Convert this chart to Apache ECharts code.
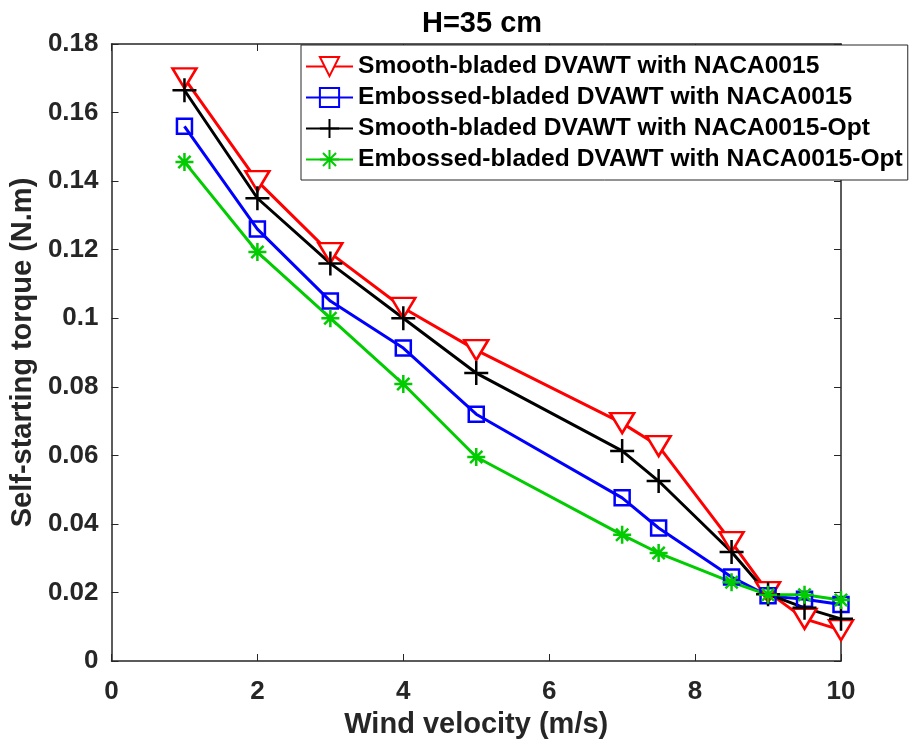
<!DOCTYPE html>
<html><head><meta charset="utf-8">
<script src="https://cdn.jsdelivr.net/npm/echarts@6/dist/echarts.min.js"></script>
<style>html,body{margin:0;padding:0;background:#fff}#c{width:918px;height:746px}</style>
</head><body><div id="c"></div>
<script>
const windVelocity = [1, 2, 3, 4, 5, 7, 7.5, 8.5, 9, 9.5, 10];
const smoothNACA = [0.170, 0.140, 0.119, 0.103, 0.0907, 0.0694, 0.0627, 0.0347, 0.0201, 0.0123, 0.0090];
const embossedNACA = [0.156, 0.126, 0.105, 0.0913, 0.0720, 0.0476, 0.0388, 0.0245, 0.0190, 0.0180, 0.0165];
const smoothOpt = [0.1665, 0.135, 0.116, 0.100, 0.084, 0.0613, 0.0525, 0.0318, 0.0195, 0.0155, 0.0123];
const embossedOpt = [0.1456, 0.1193, 0.100, 0.0808, 0.0595, 0.0368, 0.0315, 0.0230, 0.0193, 0.0193, 0.0178];
const seriesNames = ['Smooth-bladed DVAWT with NACA0015','Embossed-bladed DVAWT with NACA0015','Smooth-bladed DVAWT with NACA0015-Opt','Embossed-bladed DVAWT with NACA0015-Opt'];
const yTicks = ['0','0.02','0.04','0.06','0.08','0.1','0.12','0.14','0.16','0.18'];

const F = '"Liberation Sans", Arial, sans-serif';
const axisCol = '#262626';
const pair = a => windVelocity.map((x,i)=>[x,a[i]]);
const plusPath = 'path://M5,0L5,10M0,5L10,5';
const starPath = 'path://M5,0L5,10M0,5L10,5M1.6,1.6L8.4,8.4M1.6,8.4L8.4,1.6';

function mk(name, data, col, symbol, size, rot, fill) {
  return {
    name, type:'line', data: pair(data), symbol, symbolSize: size, symbolRotate: rot||0,
    showAllSymbol:true,
    lineStyle:{color:col, width:3},
    itemStyle:{color: fill, borderColor: col, borderWidth: 2.5},
    emphasis:{disabled:true}, z: 3
  };
}
const axCommon = {
  axisLine:{show:true, onZero:false, lineStyle:{color:axisCol, width:1.5}},
  axisTick:{show:true, inside:true, length:7, lineStyle:{color:axisCol}},
  splitLine:{show:false}
};
const chart = echarts.init(document.getElementById('c'), null, {renderer:'canvas'});
chart.setOption({
  animation:false,
  backgroundColor:'#fff',
  title:{text:'H=35 cm', left:477, top:4, textAlign:'center',
    textStyle:{fontFamily:F, fontWeight:'bold', fontSize:29, color:'#000'}},
  grid:{left:111, right:77, top:44, bottom:85, containLabel:false},
  legend:{
    data: seriesNames, orient:'vertical', left:301, top:45,
    padding:[9,5,8,4], itemGap:6, itemWidth:47, itemHeight:24, itemTextGap:6,
    backgroundColor:'#fff', borderColor:'#262626', borderWidth:1,
    textStyle:{fontFamily:F, fontWeight:'bold', fontSize:24.6, color:'#000'}
  },
  xAxis:[Object.assign({
    type:'value', min:0, max:10, interval:2,
    name:'Wind velocity (m/s)', nameLocation:'middle', nameGap:49,
    nameTextStyle:{fontFamily:F, fontWeight:'bold', fontSize:29, color:axisCol},
    axisLabel:{fontFamily:F, fontWeight:'bold', fontSize:26, color:axisCol, margin:18}
  }, axCommon),Object.assign({
    type:'value', min:0, max:10, interval:2, position:'top',
    axisLabel:{show:false}
  }, axCommon)],
  yAxis:[Object.assign({
    type:'value', min:0, max:0.18, interval:0.02,
    name:'Self-starting torque (N.m)', nameLocation:'middle', nameGap:67, nameRotate:90,
    nameTextStyle:{fontFamily:F, fontWeight:'bold', fontSize:29, color:axisCol},
    axisLabel:{fontFamily:F, fontWeight:'bold', fontSize:26, color:axisCol, margin:13,
      formatter:(v)=>yTicks[Math.round(v/0.02)]}
  }, axCommon),Object.assign({
    type:'value', min:0, max:0.18, interval:0.02, position:'right',
    axisLabel:{show:false}
  }, axCommon)],
  series:[
    mk(seriesNames[0], smoothNACA, '#ff0000', 'triangle', [24,20], 180, '#ffffff'),
    mk(seriesNames[1], embossedNACA, '#0000ff', 'rect', 15, 0, 'rgba(255,255,255,0)'),
    mk(seriesNames[2], smoothOpt, '#000000', plusPath, 24, 0, 'rgba(0,0,0,0)'),
    mk(seriesNames[3], embossedOpt, '#00cc00', starPath, 18, 0, 'rgba(0,0,0,0)')
  ]
});
</script></body></html>
